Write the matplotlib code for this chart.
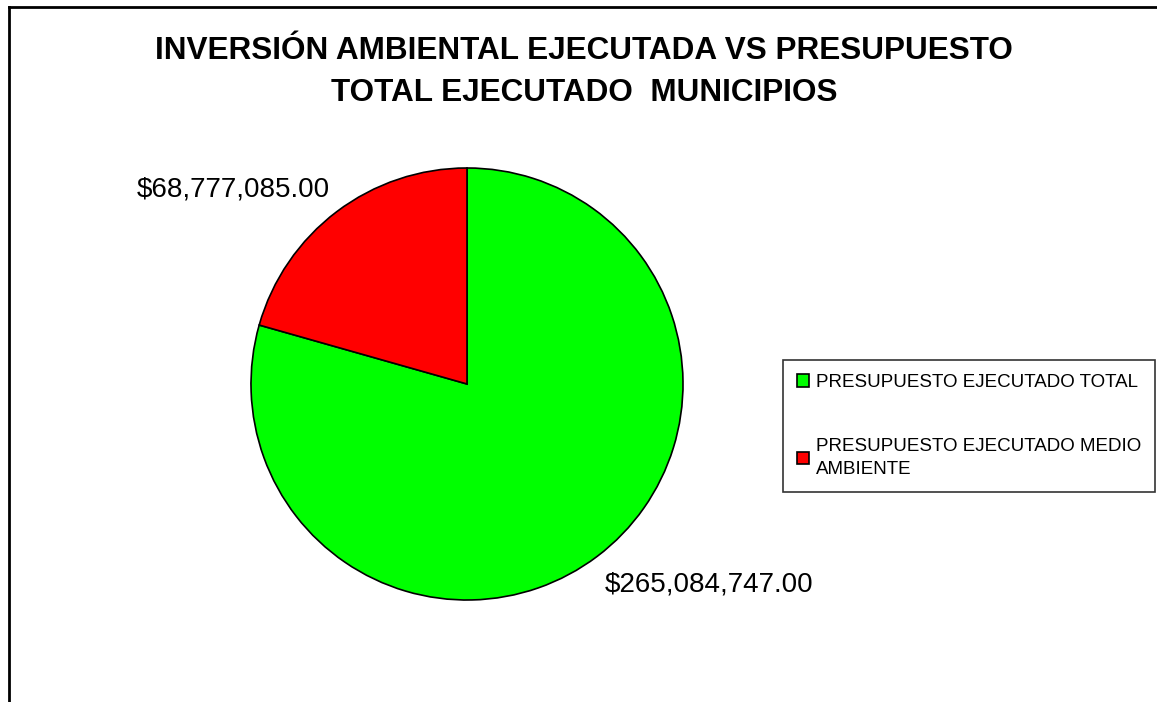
import matplotlib.pyplot as plt
from matplotlib.lines import Line2D

plt.rcParams['font.family'] = ['Liberation Sans', 'DejaVu Sans']

# Data
categories = ['PRESUPUESTO EJECUTADO TOTAL', 'PRESUPUESTO EJECUTADO MEDIO\nAMBIENTE']
values = [265084747.00, 68777085.00]
colors = ['#00ff00', '#ff0000']

W, H = 1157, 702
fig = plt.figure(figsize=(W / 100, H / 100), dpi=100)

# pie axes: center (467, 384) px, radius 216 px
cx, cy, r = 467, 384, 216
ax = fig.add_axes([(cx - r) / W, 1 - (cy + r) / H, 2 * r / W, 2 * r / H])
wedges, _ = ax.pie(values, colors=colors, startangle=90, counterclock=False,
                   wedgeprops=dict(edgecolor='black', linewidth=1.2))
ax.set_xlim(-1, 1)
ax.set_ylim(-1, 1)
ax.set_aspect('equal')

# value labels
ax.text(-1.08, 0.9, '${:,.2f}'.format(values[1]), ha='center', va='center',
        fontsize=20, clip_on=False)
ax.text(1.12, -0.93, '${:,.2f}'.format(values[0]), ha='center', va='center',
        fontsize=20, clip_on=False)

fig.text(584 / W, 1 - 51 / H, 'INVERSIÓN AMBIENTAL EJECUTADA VS PRESUPUESTO',
         ha='center', va='center', fontsize=22.7, fontweight='bold')
fig.text(584 / W, 1 - 93 / H, 'TOTAL EJECUTADO  MUNICIPIOS',
         ha='center', va='center', fontsize=22.7, fontweight='bold')

leg = fig.legend(wedges, categories, loc='upper left',
                 bbox_to_anchor=(783 / W, 1 - 360 / H), fontsize=13.5,
                 frameon=True, fancybox=False, edgecolor='black',
                 handlelength=0.65, handleheight=0.65, handletextpad=0.35,
                 labelspacing=2.5, borderpad=0.75, borderaxespad=0)
leg.get_frame().set_linewidth(1.2)
for t in leg.get_texts():
    t.set_linespacing(1.45)

# chart area border (left and top only visible)
fig.add_artist(Line2D([9 / W, 9 / W], [0, 1 - 7 / H], color='black', lw=2))
fig.add_artist(Line2D([9 / W, 1], [1 - 7 / H, 1 - 7 / H], color='black', lw=2))

fig.savefig('out.png', dpi=100)
